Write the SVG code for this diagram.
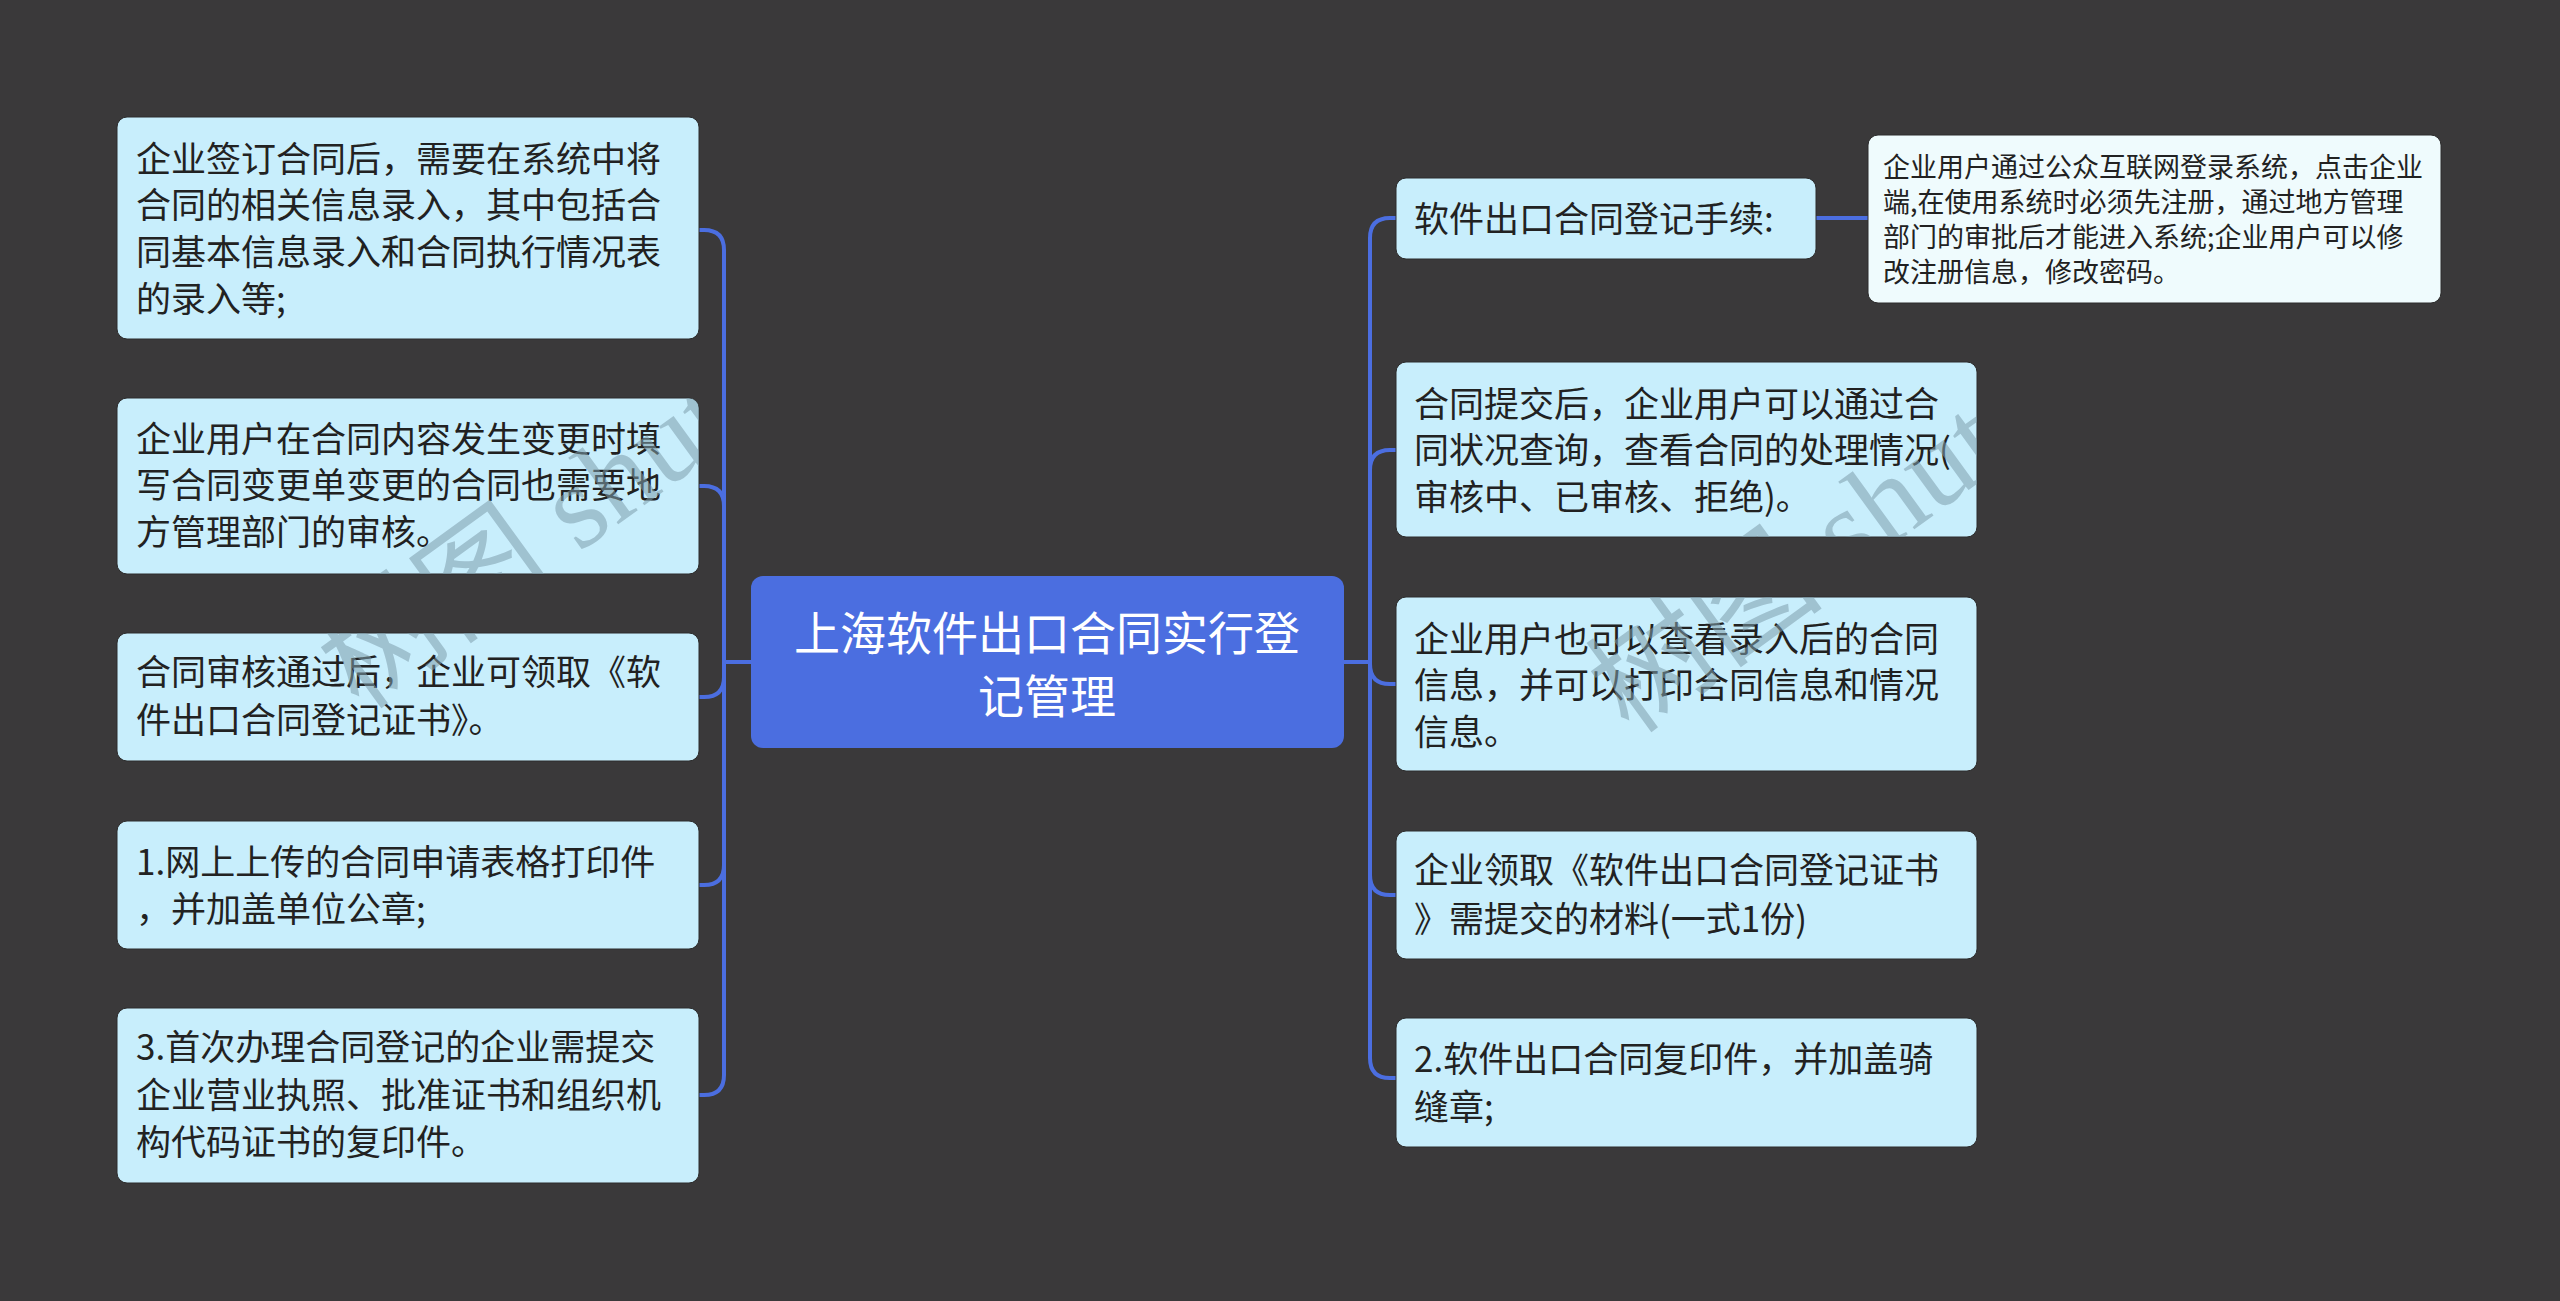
<svg xmlns="http://www.w3.org/2000/svg" width="2560" height="1301" viewBox="0 0 2560 1301">
<style>
.bg{fill:#3a393a}
.box{fill:#c8eefc;stroke:#2c2c2c;stroke-width:1}
.sub{fill:#effbfd;stroke:#2c2c2c;stroke-width:1}
.root{fill:#4b6ee0}
.t{font-family:"Noto Sans CJK SC","Noto Sans",sans-serif;font-size:35px;fill:#222222}
.ts{font-family:"Noto Sans CJK SC","Noto Sans",sans-serif;font-size:27px;fill:#222222}
.tr{font-family:"Noto Sans CJK SC","Noto Sans",sans-serif;font-size:46px;fill:#ffffff;text-anchor:middle}
.c{fill:none;stroke:#4b6ee0;stroke-width:4;stroke-linecap:round}
.wm{font-family:"Liberation Serif","Noto Sans CJK SC",serif;font-size:120px;fill:#7f9eab;opacity:0.55}
</style>
<defs>
<clipPath id="boxclip">
<rect x="117" y="117" width="582" height="222" rx="10"/>
<rect x="117" y="398" width="582" height="176" rx="10"/>
<rect x="117" y="633" width="582" height="128" rx="10"/>
<rect x="1396" y="362" width="581" height="175" rx="10"/>
<rect x="1396" y="597" width="581" height="174" rx="10"/>
<rect x="1868" y="135" width="573" height="168" rx="10"/>
</clipPath>
</defs>
<rect class="bg" x="0" y="0" width="2560" height="1301"/>

<g id="connectors">
<path class="c" d="M751 662 H724"/>
<path class="c" d="M724 662 V250 Q724 230 704 230 H699"/>
<path class="c" d="M724 662 V506 Q724 486 704 486 H699"/>
<path class="c" d="M724 662 V677 Q724 697 704 697 H699"/>
<path class="c" d="M724 662 V865 Q724 885 704 885 H699"/>
<path class="c" d="M724 662 V1075 Q724 1095 704 1095 H699"/>
<path class="c" d="M1344 662 H1370"/>
<path class="c" d="M1370 662 V238 Q1370 218 1390 218 H1396"/>
<path class="c" d="M1370 662 V470 Q1370 450 1390 450 H1396"/>
<path class="c" d="M1370 662 V664 Q1370 684 1390 684 H1396"/>
<path class="c" d="M1370 662 V875 Q1370 895 1390 895 H1396"/>
<path class="c" d="M1370 662 V1058 Q1370 1078 1390 1078 H1396"/>
<path class="c" d="M1816 218 H1868"/>
</g>

<g id="root">
<rect class="root" x="751" y="576" width="593" height="172" rx="12"/>
<text class="tr" x="1047" y="650">上海软件出口合同实行登</text>
<text class="tr" x="1047" y="713">记管理</text>
</g>

<g id="L1">
<rect class="box" x="117" y="117" width="582" height="222" rx="10"/>
<text class="t" x="136" y="172">企业签订合同后，需要在系统中将</text>
<text class="t" x="136" y="218">合同的相关信息录入，其中包括合</text>
<text class="t" x="136" y="265">同基本信息录入和合同执行情况表</text>
<text class="t" x="136" y="312">的录入等;</text>
</g>
<g id="L2">
<rect class="box" x="117" y="398" width="582" height="176" rx="10"/>
<text class="t" x="136" y="452">企业用户在合同内容发生变更时填</text>
<text class="t" x="136" y="498">写合同变更单变更的合同也需要地</text>
<text class="t" x="136" y="545">方管理部门的审核。</text>
</g>
<g id="L3">
<rect class="box" x="117" y="633" width="582" height="128" rx="10"/>
<text class="t" x="136" y="685">合同审核通过后，企业可领取《软</text>
<text class="t" x="136" y="733">件出口合同登记证书》。</text>
</g>
<g id="L4">
<rect class="box" x="117" y="821" width="582" height="128" rx="10"/>
<text class="t" x="136" y="875">1.网上上传的合同申请表格打印件</text>
<text class="t" x="136" y="922">，并加盖单位公章;</text>
</g>
<g id="L5">
<rect class="box" x="117" y="1008" width="582" height="175" rx="10"/>
<text class="t" x="136" y="1060">3.首次办理合同登记的企业需提交</text>
<text class="t" x="136" y="1108">企业营业执照、批准证书和组织机</text>
<text class="t" x="136" y="1155">构代码证书的复印件。</text>
</g>

<g id="R1">
<rect class="box" x="1396" y="178" width="420" height="81" rx="10"/>
<text class="t" x="1414" y="232">软件出口合同登记手续:</text>
</g>
<g id="S1">
<rect class="sub" x="1868" y="135" width="573" height="168" rx="10"/>
<text class="ts" x="1883" y="177">企业用户通过公众互联网登录系统，点击企业</text>
<text class="ts" x="1883" y="212">端,在使用系统时必须先注册，通过地方管理</text>
<text class="ts" x="1883" y="247">部门的审批后才能进入系统;企业用户可以修</text>
<text class="ts" x="1883" y="282">改注册信息，修改密码。</text>
</g>
<g id="R2">
<rect class="box" x="1396" y="362" width="581" height="175" rx="10"/>
<text class="t" x="1414" y="417">合同提交后，企业用户可以通过合</text>
<text class="t" x="1414" y="463">同状况查询，查看合同的处理情况(</text>
<text class="t" x="1414" y="510">审核中、已审核、拒绝)。</text>
</g>
<g id="R3">
<rect class="box" x="1396" y="597" width="581" height="174" rx="10"/>
<text class="t" x="1414" y="652">企业用户也可以查看录入后的合同</text>
<text class="t" x="1414" y="698">信息，并可以打印合同信息和情况</text>
<text class="t" x="1414" y="745">信息。</text>
</g>
<g id="R4">
<rect class="box" x="1396" y="831" width="581" height="128" rx="10"/>
<text class="t" x="1414" y="883">企业领取《软件出口合同登记证书</text>
<text class="t" x="1414" y="932">》需提交的材料(一式1份)</text>
</g>
<g id="R5">
<rect class="box" x="1396" y="1018" width="581" height="129" rx="10"/>
<text class="t" x="1414" y="1072">2.软件出口合同复印件，并加盖骑</text>
<text class="t" x="1414" y="1120">缝章;</text>
</g>

<g id="watermark" clip-path="url(#boxclip)">
<text class="wm" transform="translate(360 712) rotate(-36)">树图 shutu.cn</text>
<text class="wm" transform="translate(1630 736) rotate(-36)">树图 shutu.cn</text>
</g>
</svg>
